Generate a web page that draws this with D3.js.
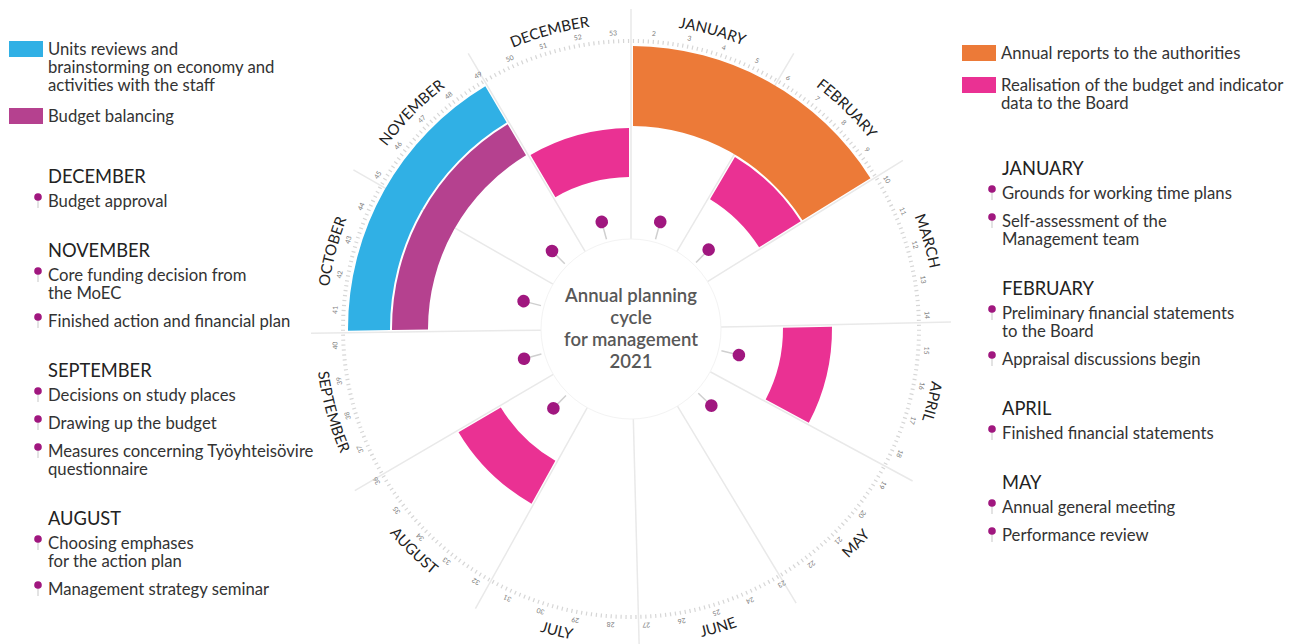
<!DOCTYPE html>
<html>
<head>
<meta charset="utf-8">
<script src="https://cdn.jsdelivr.net/npm/d3@7"></script>
<style>
  body { margin: 0; background: #fff; }
  svg { font-family: Lato, "Open Sans", sans-serif; }
</style>
</head>
<body>
<svg id="wheel" width="1295" height="644"></svg>
<script>
// months and calendar
const months = ['JANUARY', 'FEBRUARY', 'MARCH', 'APRIL', 'MAY', 'JUNE',
    'JULY', 'AUGUST', 'SEPTEMBER', 'OCTOBER', 'NOVEMBER', 'DECEMBER'];
const monthDays = [31, 28, 31, 30, 31, 30, 31, 31, 30, 31, 30, 31];
const weekNumbers = [2, 3, 4, 5, 6, 7, 8, 9, 10, 11, 12, 13, 14, 15, 16, 17, 18, 19, 20,
    21, 22, 23, 24, 25, 26, 27, 28, 29, 30, 31, 32, 33, 34, 35, 36, 37, 38, 39, 40,
    41, 42, 43, 44, 45, 46, 47, 48, 49, 50, 51, 52, 53];
const firstMonday = 3; // 4 Jan 2021 starts week 2

// activities (coloured bands)
const activityNames = [
    'Annual reports to the authorities',
    'Units reviews and brainstorming on economy and activities with the staff',
    'Budget balancing',
    'Realisation of the budget and indicator data to the Board'
];
const activityColors = ['#ec7a38', '#30b0e5', '#b5418f', '#ea3193'];
const segActivity = [0, 1, 2, 3, 3, 3, 3];
const segFirstMonth = [1, 10, 10, 2, 4, 8, 12];
const segLastMonth = [2, 11, 11, 2, 4, 8, 12];

// pins (one per month with events)
const pinMonths = [1, 2, 4, 5, 8, 9, 10, 11, 12];

// event lists
const leftHeads = ['DECEMBER', 'NOVEMBER', 'SEPTEMBER', 'AUGUST'];
const leftItems = [
    [['Budget approval']],
    [['Core funding decision from', 'the MoEC'], ['Finished action and financial plan']],
    [['Decisions on study places'], ['Drawing up the budget'], ['Measures concerning Työyhteisövire', 'questionnaire']],
    [['Choosing emphases', 'for the action plan'], ['Management strategy seminar']]
];
const rightHeads = ['JANUARY', 'FEBRUARY', 'APRIL', 'MAY'];
const rightItems = [
    [['Grounds for working time plans'], ['Self-assessment of the', 'Management team']],
    [['Preliminary financial statements', 'to the Board'], ['Appraisal discussions begin']],
    [['Finished financial statements']],
    [['Annual general meeting'], ['Performance review']]
];

// ---------- layout ----------
const cx = 631, cy = 329;
const ring = [[203, 283], [241, 283], [203, 239], [152, 201]];
const pinColor = '#a0177f';

const svg = d3.select('#wheel');
const g = svg.append('g').attr('transform', `translate(${cx},${cy})`);

const monthStart = d3.cumsum([0].concat(monthDays.slice(0, 11)));
const angle = d3.scaleLinear().domain([0, 365]).range([0, 2 * Math.PI]);
const deg = d => angle(d) * 180 / Math.PI;
const pt = (a, r) => [r * Math.sin(a), -r * Math.cos(a)];

// radial separators
g.append('g').selectAll('line')
    .data(monthStart)
    .join('line')
    .attr('x1', d => pt(angle(d), 90)[0])
    .attr('y1', d => pt(angle(d), 90)[1])
    .attr('x2', d => pt(angle(d), 320)[0])
    .attr('y2', d => pt(angle(d), 320)[1])
    .attr('stroke', '#e9e9e9')
    .attr('stroke-width', 1.5);

// day ticks
g.append('g').selectAll('line')
    .data(d3.range(365))
    .join('line')
    .attr('x1', d => pt(angle(d + 0.5), 286)[0])
    .attr('y1', d => pt(angle(d + 0.5), 286)[1])
    .attr('x2', d => pt(angle(d + 0.5), 290)[0])
    .attr('y2', d => pt(angle(d + 0.5), 290)[1])
    .attr('stroke', '#d6d6d6')
    .attr('stroke-width', 1.2);

// week labels
g.append('g').selectAll('text')
    .data(weekNumbers)
    .join('text')
    .attr('transform', d => `rotate(${deg(firstMonday + (d - 2) * 7 + 1.5)}) translate(0,-294)`)
    .attr('text-anchor', 'middle')
    .attr('font-size', 6.8)
    .attr('fill', '#7a7a7a')
    .text(d => d);

// month labels on arcs
const defs = svg.append('defs');
months.forEach((m, i) => {
    const a0 = angle(monthStart[i]), a1 = angle(monthStart[i] + monthDays[i]);
    const mid = deg(monthStart[i] + monthDays[i] / 2);
    const flip = mid > 120 && mid < 270;
    const r = flip ? 316 : 305;
    const p0 = pt(flip ? a1 : a0, r), p1 = pt(flip ? a0 : a1, r);
    defs.append('path')
        .attr('id', 'mpath' + i)
        .attr('d', `M${p0[0]},${p0[1]} A${r},${r} 0 0 ${flip ? 0 : 1} ${p1[0]},${p1[1]}`);
    g.append('text')
        .attr('font-size', 15)
        .attr('fill', '#222')
        .append('textPath')
        .attr('href', '#mpath' + i)
        .attr('startOffset', '50%')
        .attr('text-anchor', 'middle')
        .text(m);
});

// activity bands
const arc = d3.arc().padAngle(0.04).padRadius(100);
g.append('g').selectAll('path')
    .data(segActivity.map((a, i) => ({
        act: a,
        startAngle: angle(monthStart[segFirstMonth[i] - 1]),
        endAngle: angle(monthStart[segLastMonth[i] - 1] + monthDays[segLastMonth[i] - 1]),
        innerRadius: ring[a][0],
        outerRadius: ring[a][1]
    })))
    .join('path')
    .attr('d', arc)
    .attr('fill', d => activityColors[d.act]);

// centre
g.append('circle').attr('r', 90).attr('fill', '#fff').attr('stroke', '#f3f3f3');
const centreLines = ['Annual planning', 'cycle', 'for management', '2021'];
g.append('g').selectAll('text')
    .data(centreLines)
    .join('text')
    .attr('x', 0)
    .attr('y', (d, i) => -27 + i * 22)
    .attr('text-anchor', 'middle')
    .attr('font-size', 18.5)
    .attr('font-weight', 600)
    .attr('fill', '#585858')
    .text(d => d);

// pins
const pins = g.append('g').selectAll('g')
    .data(pinMonths)
    .join('g')
    .attr('transform', d => `rotate(${deg(monthStart[d - 1] + monthDays[d - 1] / 2)})`);
pins.append('line')
    .attr('y1', -110).attr('y2', -93)
    .attr('stroke', '#cfcfcf').attr('stroke-width', 1.5);
pins.append('circle')
    .attr('cy', -111).attr('r', 6.3)
    .attr('fill', pinColor);

// ---------- legends ----------
function swatch(x, y, color, lines) {
    svg.append('rect').attr('x', x).attr('y', y).attr('width', 34).attr('height', 16)
        .attr('fill', color);
    lines.forEach((t, k) => {
        svg.append('text').attr('x', x + 39).attr('y', y + 14 + k * 18)
            .attr('font-size', 16.7).attr('fill', '#333').text(t);
    });
}
swatch(9, 41, activityColors[1], ['Units reviews and', 'brainstorming on economy and', 'activities with the staff']);
swatch(9, 108, activityColors[2], ['Budget balancing']);
swatch(962, 45, activityColors[0], ['Annual reports to the authorities']);
swatch(962, 77, activityColors[3], ['Realisation of the budget and indicator', 'data to the Board']);

function pinIcon(x, y) {
    svg.append('line').attr('x1', x).attr('x2', x).attr('y1', y).attr('y2', y + 11)
        .attr('stroke', '#d0d0d0').attr('stroke-width', 1.2);
    svg.append('circle').attr('cx', x).attr('cy', y).attr('r', 3.8).attr('fill', pinColor);
}

function eventList(x, y0, heads, items) {
    let y = y0;
    heads.forEach((h, i) => {
        svg.append('text').attr('x', x).attr('y', y).attr('font-size', 18.3)
            .attr('fill', '#222').text(h);
        y += 24;
        items[i].forEach(lines => {
            pinIcon(x - 10, y - 10);
            lines.forEach((t, k) => {
                svg.append('text').attr('x', x).attr('y', y + k * 18)
                    .attr('font-size', 16.7).attr('fill', '#333').text(t);
            });
            y += (lines.length - 1) * 18 + 28;
        });
        y += 22;
    });
}
eventList(48, 183, leftHeads, leftItems);
eventList(1002, 175, rightHeads, rightItems);
</script>
</body>
</html>
